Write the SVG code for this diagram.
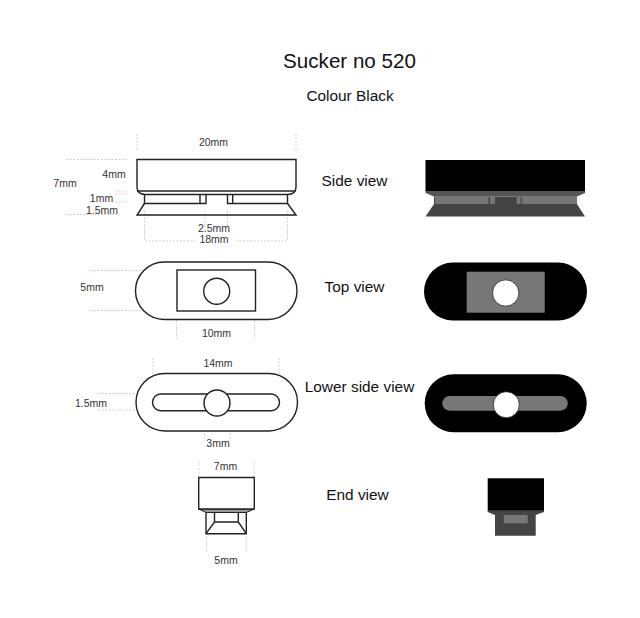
<svg xmlns="http://www.w3.org/2000/svg" width="640" height="618" viewBox="0 0 640 618">
<style>
text{font-family:"Liberation Sans",Arial,sans-serif;fill:#111;text-anchor:middle}
.t{font-size:20.600px}.h{font-size:15.400px}.s{font-size:10.500px;fill:#333}
.o{fill:#fff;stroke:#222;stroke-width:1.4}
.n{fill:none;stroke:#222;stroke-width:1.4}
.d{fill:none;stroke:#bbb;stroke-width:.7;stroke-dasharray:2 1.5}
.k{fill:#000}.g{fill:#777}.m{fill:#444}.c{fill:#555}.w{fill:#fff;stroke:#222;stroke-width:.8}
</style>
<rect width="640" height="618" fill="#fff"/>
<g id="title"><text class="t" x="349.500" y="67.500">Sucker no 520</text><text class="h" x="350" y="100.500">Colour Black</text></g>
<g id="connectors">
<path class="d" d="M137 134V151M296 134V151M66 159.500H127M115 191H127M115 194H127M115 202H127M66 214.500H120M144.500 210V241H197M236 241H287.500V210M205 210V228M227.500 210V228"/>
<path class="d" d="M90 270.500H170M90 310.500H170M176.500 313V339M254.500 313V339"/>
<path class="d" d="M153 358V393M279 358V393M98 393.500H152M98 410H152M204.500 416V441M230 416V441"/>
<path class="d" d="M199 461V476M254 461V476M206.500 536V552M246 536V552"/>
</g>
<g id="side-view">
<path class="n" d="M144.500 195V203.500H206V195M200 195V203.500M287.500 195V203.500H227.500V195M232.700 195V203.500"/>
<path class="n" d="M144.500 203.500L137 215H296L287.500 203.500"/>
<path class="o" d="M137 159.500H296V187Q296 194.500 287.500 194.500H145.500Q137 194.500 137 187Z"/>
<path class="n" d="M137.500 191H295.500"/>
<text class="s" x="213.500" y="146">20mm</text><text class="s" x="114" y="177.500">4mm</text><text class="s" x="65" y="187">7mm</text><text class="s" x="101.500" y="202">1mm</text><text class="s" x="102" y="214">1.5mm</text><text class="s" x="214" y="232">2.5mm</text><text class="s" x="214" y="243">18mm</text>
<text class="h" x="354.500" y="186">Side view</text>
</g>
<g id="side-view-solid">
<path class="m" d="M434 196.500H577V204L585 216.500H425.500L434 204Z"/>
<path class="c" d="M425.500 191H585V193L577 196.500H434L425.500 193Z"/>
<path class="g" d="M435 196.500H488.500V204H435ZM490 196.500H495V204H490ZM516.700 196.500H520.700V204H516.700ZM522 196.500H577V204H522Z"/>
<rect class="k" x="425.500" y="160" width="159.500" height="31"/>
</g>
<g id="top-view">
<rect class="o" x="135.500" y="262" width="161.500" height="57.500" rx="28.700"/>
<rect class="o" x="177" y="270" width="78.500" height="41"/>
<circle class="o" cx="216.700" cy="291.300" r="13"/>
<text class="s" x="92" y="291">5mm</text><text class="s" x="216.500" y="337">10mm</text>
<text class="h" x="354.500" y="291.500">Top view</text>
</g>
<g id="top-view-solid">
<rect class="k" x="424" y="262.500" width="163" height="58" rx="29"/>
<rect class="g" x="466.700" y="271.700" width="78" height="41"/>
<circle class="w" cx="505.700" cy="293" r="13.200"/>
</g>
<g id="lower-side-view">
<rect class="o" x="136" y="373.500" width="161.500" height="57.500" rx="28.700"/>
<rect class="o" x="152.500" y="394" width="127" height="16.700" rx="8.300"/>
<circle class="o" cx="217" cy="403" r="13"/>
<text class="s" x="91" y="407">1.5mm</text><text class="s" x="218" y="367">14mm</text><text class="s" x="218" y="447">3mm</text>
<text class="h" x="359.500" y="392">Lower side view</text>
</g>
<g id="lower-side-view-solid">
<rect class="k" x="424.700" y="374.300" width="162" height="58" rx="29"/>
<rect class="g" x="442.300" y="396" width="125.500" height="14.700" rx="7.300"/>
<circle class="w" cx="506.300" cy="404.700" r="13"/>
</g>
<g id="end-view">
<path class="o" d="M206 512.500V533.700H246.300V512.500"/>
<path class="n" d="M214.500 512.500V522H238.300V512.500M214.500 522L206 533.700M238.300 522L246.300 533.700"/>
<path d="M198.700 509H254.300L246.300 512.500H206Z" fill="#999" stroke="#222" stroke-width="1"/>
<path class="o" d="M198.700 477.500H254.300V509H198.700Z"/>
<text class="s" x="225.500" y="470">7mm</text><text class="s" x="226" y="564">5mm</text>
<text class="h" x="357.500" y="499.500">End view</text>
</g>
<g id="end-view-solid">
<path class="m" d="M487.700 510.500H544V512L535.700 515V535.700H495V515L487.700 512Z"/>
<rect class="g" x="503.700" y="515" width="24" height="8.300"/>
<rect class="k" x="487.700" y="478.300" width="56.300" height="32.400"/>
</g>
</svg>
